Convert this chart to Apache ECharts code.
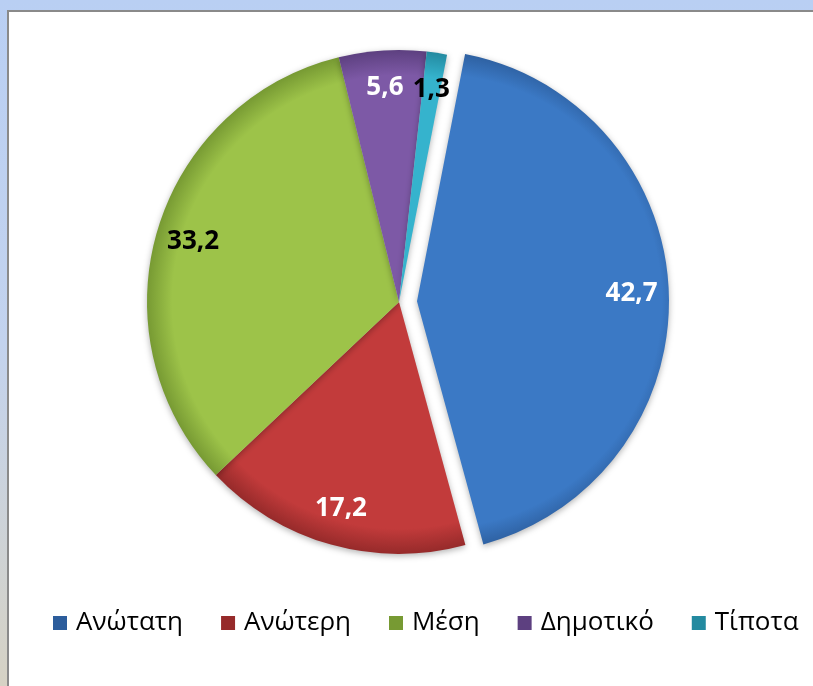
<!DOCTYPE html>
<html>
<head>
<meta charset="utf-8">
<script src="https://cdn.jsdelivr.net/npm/echarts@6/dist/echarts.min.js"></script>
<style>
  html, body { margin: 0; padding: 0; }
  body {
    width: 813px; height: 686px; overflow: hidden;
    background: linear-gradient(180deg, #b9cff3 0%, #c3d3ee 50%, #d6d2c4 100%);
  }
  #frame {
    position: absolute; left: 7px; top: 10px; width: 806px; height: 676px;
    background: #fff; border-left: 2px solid #8a8a8a; border-top: 2px solid #8a8a8a;
  }
  #main { width: 806px; height: 676px; }
</style>
</head>
<body>
<div id="frame"><div id="main"></div></div>
<script>
  // κατηγορίες και τιμές (%)
  var categories = ['Ανώτατη', 'Ανώτερη', 'Μέση', 'Δημοτικό', 'Τίποτα'];
  var values = [42.7, 17.2, 33.2, 5.6, 1.3];
  var colors = ['#3b79c5', '#c23b3b', '#9dc349', '#7d59a6', '#35b3cd'];
  var edgeColors = ['#2c5d9c', '#962a2a', '#779a33', '#5d4080', '#238aa0'];
  var labelColors = ['#fff', '#fff', '#000', '#fff', '#000'];

  var cx = 390, cy = 290, R = 252, offset = 18;

  var chart = echarts.init(document.getElementById('main'));

  // χρώμα με "bevel" στην άκρη
  function fill(i) {
    var dx = 0;
    if (i === 0) dx = offset;
    return {
      type: 'radial', x: cx + dx, y: cy, r: R, global: true,
      colorStops: [
        {offset: 0, color: colors[i]},
        {offset: 0.9, color: colors[i]},
        {offset: 1, color: edgeColors[i]}
      ]
    };
  }

  var pieData = categories.map(function (c, i) {
    return {
      name: c, value: values[i], selected: i === 0,
      itemStyle: {color: fill(i)}
    };
  });
  var labelData = categories.map(function (c, i) {
    return {
      name: c, value: values[i], selected: i === 0,
      label: {color: labelColors[i]}
    };
  });

  var option = {
    animation: false,
    color: colors,
    legend: {
      data: categories,
      left: 39,
      top: 593,
      icon: 'rect',
      itemWidth: 14,
      itemHeight: 14,
      itemGap: 38,
      textStyle: {fontFamily: 'Open Sans', fontSize: 26, color: '#000', padding: [0, 0, 0, 4]}
    },
    series: [
      {
        type: 'pie',
        center: [cx, cy],
        radius: [0, R],
        startAngle: 79,
        selectedMode: 'single',
        selectedOffset: offset,
        label: {show: false},
        labelLine: {show: false},
        emphasis: {disabled: true},
        itemStyle: {
          shadowBlur: 6, shadowColor: 'rgba(0,0,0,0.3)', shadowOffsetY: 2
        },
        data: pieData
      },
      {
        type: 'pie',
        center: [cx, cy],
        radius: [R * 0.68, R],
        startAngle: 79,
        selectedMode: 'single',
        selectedOffset: offset,
        silent: true,
        emphasis: {disabled: true},
        itemStyle: {color: 'rgba(0,0,0,0)'},
        label: {
          show: true, position: 'inside',
          fontFamily: 'Open Sans', fontWeight: 'bold', fontSize: 26,
          formatter: function (p) { return String(p.value).replace('.', ','); }
        },
        labelLine: {show: false},
        data: labelData
      }
    ]
  };
  chart.setOption(option);
</script>
</body>
</html>
